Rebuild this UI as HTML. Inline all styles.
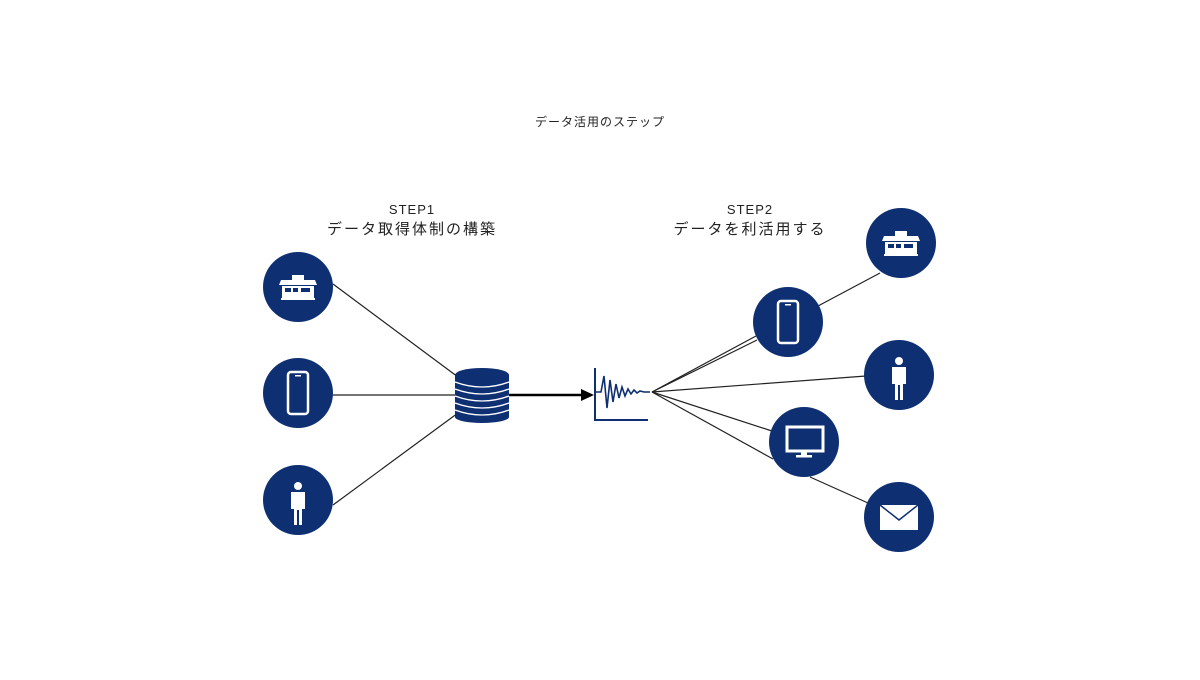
<!DOCTYPE html>
<html><head><meta charset="utf-8"><style>
body{margin:0;background:#fff;width:1200px;height:675px;overflow:hidden}
svg text{font-family:"Liberation Sans","Noto Sans CJK JP",sans-serif;fill:#222}
</style></head><body>
<svg width="1200" height="675" viewBox="0 0 1200 675">
<defs>
<g id="store"><rect x="-6" y="-12" width="12" height="5" fill="#fff"/><path d="M-17 -7 H17 L19 -2 H-19 Z" fill="#fff"/><rect x="-16" y="-1" width="32" height="12" fill="#fff"/><rect x="-13" y="1" width="6" height="4" fill="#0e2f72"/><rect x="-5" y="1" width="5" height="4" fill="#0e2f72"/><rect x="3" y="1" width="9" height="4" fill="#0e2f72"/><rect x="-17" y="11" width="34" height="2" fill="#fff"/></g>
<g id="phone"><rect x="-10" y="-21" width="20" height="42" rx="3" fill="none" stroke="#fff" stroke-width="2.5"/><rect x="-3" y="-18" width="6" height="1.5" fill="#fff"/></g>
<g id="person"><circle cx="0" cy="-17" r="4" fill="#fff"/><path d="M-7 -11 H7 V6 H4 V22 H1 V7 H-1 V22 H-4 V6 H-7 Z" fill="#fff"/></g>
</defs>
<text x="600" y="126" font-size="12" text-anchor="middle" letter-spacing="1">データ活用のステップ</text>
<text x="412" y="214" font-size="13" text-anchor="middle" letter-spacing="1">STEP1</text>
<text x="412" y="234" font-size="15" text-anchor="middle" letter-spacing="2">データ取得体制の構築</text>
<text x="750" y="214" font-size="13" text-anchor="middle" letter-spacing="1">STEP2</text>
<text x="750" y="234" font-size="15" text-anchor="middle" letter-spacing="2">データを利活用する</text>
<g stroke="#222" stroke-width="1.2" fill="none">
<line x1="333" y1="284" x2="458" y2="377"/>
<line x1="333" y1="395" x2="458" y2="395"/>
<line x1="333" y1="505" x2="458" y2="413"/>
<line x1="652" y1="392" x2="756" y2="336"/>
<line x1="652" y1="392" x2="757" y2="340"/>
<line x1="652" y1="392" x2="866" y2="376"/>
<line x1="652" y1="392" x2="772" y2="431"/>
<line x1="652" y1="392" x2="773" y2="459"/>
<line x1="810" y1="477" x2="868" y2="503"/>
<line x1="818" y1="306" x2="880" y2="273"/>
</g>
<line x1="508" y1="395" x2="582" y2="395" stroke="#000" stroke-width="2.5"/>
<path d="M594 395 L581 389 L581 401 Z" fill="#000"/>
<g fill="#0e2f72">
<circle cx="298" cy="287" r="35"/><circle cx="298" cy="393" r="35"/><circle cx="298" cy="500" r="35"/>
<circle cx="901" cy="243" r="35"/><circle cx="788" cy="322" r="35"/><circle cx="899" cy="375" r="35"/><circle cx="804" cy="442" r="35"/><circle cx="899" cy="517" r="35"/>
</g>
<use href="#store" x="298" y="287"/><use href="#phone" x="298" y="393"/><use href="#person" x="298" y="503"/>
<use href="#store" x="901" y="243"/><use href="#phone" x="788" y="322"/><use href="#person" x="899" y="378"/>
<rect x="787" y="427" width="36" height="24" fill="none" stroke="#fff" stroke-width="3"/><rect x="801" y="451" width="6" height="5" fill="#fff"/><rect x="796" y="455" width="16" height="2.5" fill="#fff"/>
<rect x="880" y="505" width="38" height="25" fill="#fff"/><path d="M880 505 L899 520 L918 505" fill="none" stroke="#0e2f72" stroke-width="1.5"/>
<!-- database -->
<g>
<rect x="455" y="375" width="54" height="42" fill="#0e2f72"/>
<ellipse cx="482" cy="417" rx="27" ry="6" fill="#0e2f72"/>
<ellipse cx="482" cy="375" rx="27" ry="7" fill="#0e2f72"/>
<g fill="none" stroke="#fff" stroke-width="1.3">
<path d="M455 382 Q482 392 509 382"/><path d="M455 389 Q482 399 509 389"/><path d="M455 396 Q482 406 509 396"/><path d="M455 403 Q482 413 509 403"/><path d="M455 410 Q482 420 509 410"/>
</g>
</g>
<!-- chart -->
<g fill="none" stroke="#0e2f72" stroke-width="2">
<path d="M595 368 V420 H648"/>
<path d="M596 392 H601 L604 376 L607 408 L610 380 L613 402 L616 384 L619 398 L622 387 L625 396 L628 389 L631 394 L634 390 L637 393 L640 391 L644 392 L650 392" stroke-width="1.6"/>
</g>
</svg>
</body></html>
